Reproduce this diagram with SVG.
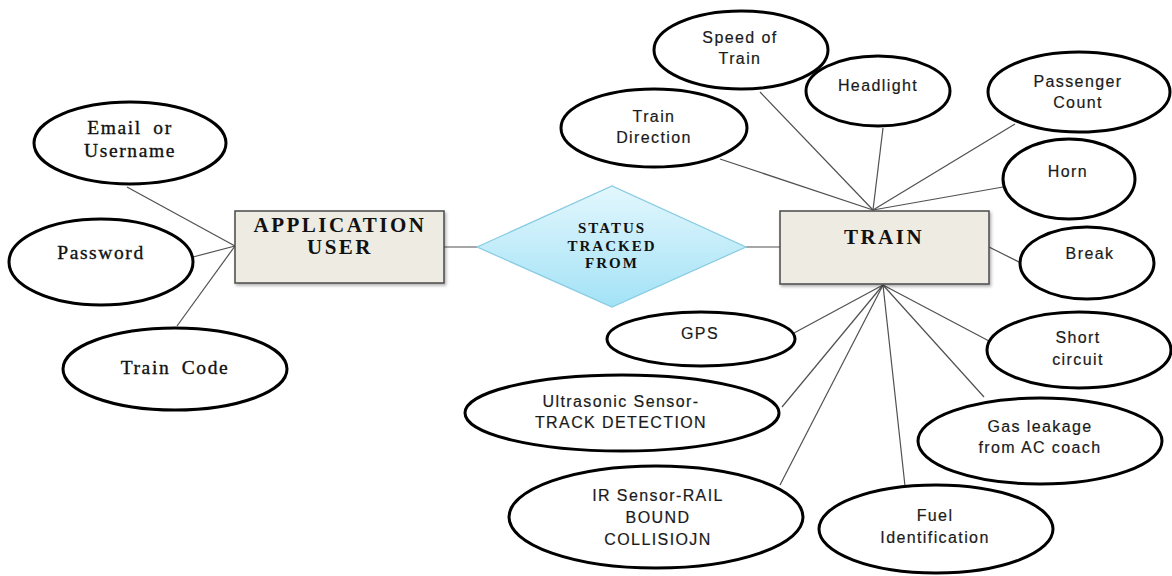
<svg xmlns="http://www.w3.org/2000/svg" width="1172" height="576" viewBox="0 0 1172 576">
<defs>
<linearGradient id="dg" x1="0" y1="0" x2="0" y2="1">
<stop offset="0" stop-color="#e3f7fd"/>
<stop offset="1" stop-color="#a3e2f6"/>
</linearGradient>
<filter id="sh" x="-10%" y="-10%" width="130%" height="140%">
<feDropShadow dx="1.5" dy="2" stdDeviation="1.5" flood-color="#000" flood-opacity="0.3"/>
</filter>
</defs>
<style>
.att{fill:#fff;stroke:#000;stroke-width:3}
.ent{fill:#edebe2;stroke:#4a4a4a;stroke-width:1.5;filter:url(#sh)}
.ln{stroke:#505050;stroke-width:1.2;fill:none}
.ts{font-family:"Liberation Serif","Times New Roman",serif;font-size:19.5px;letter-spacing:1.6px;word-spacing:5px;fill:#111;stroke:#111;stroke-width:0.35;text-anchor:middle}
.tb{font-family:"Liberation Serif","Times New Roman",serif;font-weight:bold;font-size:21px;letter-spacing:2.5px;fill:#111;text-anchor:middle}
.tr{font-family:"Liberation Serif","Times New Roman",serif;font-weight:bold;font-size:15px;letter-spacing:2px;fill:#111;text-anchor:middle}
.tc{font-family:"Liberation Sans",Arial,sans-serif;font-size:16px;letter-spacing:1.4px;fill:#1a1a1a;stroke:#1a1a1a;stroke-width:0.2;text-anchor:middle}
</style>
<rect width="1172" height="576" fill="#fff"/>
<g id="connectors">
<line class="ln" x1="127" y1="187" x2="235" y2="246"/>
<line class="ln" x1="193" y1="257" x2="235" y2="246"/>
<line class="ln" x1="177" y1="326" x2="235" y2="246"/>
<line class="ln" x1="444" y1="247" x2="477" y2="247"/>
<line class="ln" x1="746" y1="247" x2="780" y2="247"/>
<line class="ln" x1="720" y1="159" x2="873" y2="210"/>
<line class="ln" x1="760" y1="92" x2="873" y2="210"/>
<line class="ln" x1="883" y1="128" x2="873" y2="210"/>
<line class="ln" x1="1015" y1="124" x2="873" y2="210"/>
<line class="ln" x1="1003" y1="187" x2="873" y2="210"/>
<line class="ln" x1="989" y1="247" x2="1021" y2="263"/>
<line class="ln" x1="794" y1="333" x2="883" y2="285"/>
<line class="ln" x1="782" y1="407" x2="883" y2="285"/>
<line class="ln" x1="780" y1="485" x2="883" y2="285"/>
<line class="ln" x1="905" y1="486" x2="883" y2="285"/>
<line class="ln" x1="984" y1="397" x2="883" y2="285"/>
<line class="ln" x1="989" y1="341" x2="883" y2="285"/>
</g>
<g id="email"><ellipse class="att" cx="130" cy="143" rx="96" ry="41"/><text class="ts" x="130" y="134">Email or</text><text class="ts" x="130" y="157">Username</text></g>
<g id="password"><ellipse class="att" cx="101" cy="262" rx="92" ry="43"/><text class="ts" x="101" y="259">Password</text></g>
<g id="traincode"><ellipse class="att" cx="175" cy="369" rx="112" ry="41"/><text class="ts" x="175" y="374">Train Code</text></g>
<g id="appuser"><rect class="ent" x="235" y="211" width="209" height="72"/><text class="tb" x="340" y="232">APPLICATION</text><text class="tb" x="340" y="254">USER</text></g>
<g id="status"><polygon points="477,247 612,186 746,247 612,307" fill="url(#dg)" stroke="#86cbe2" stroke-width="1.2"/><text class="tr" x="612" y="233">STATUS</text><text class="tr" x="612" y="251">TRACKED</text><text class="tr" x="612" y="268">FROM</text></g>
<g id="train"><rect class="ent" x="780" y="211" width="209" height="73"/><text class="tb" x="884" y="244">TRAIN</text></g>
<g id="speed"><ellipse class="att" cx="741" cy="50" rx="87" ry="39"/><text class="tc" x="740" y="43">Speed of</text><text class="tc" x="740" y="64">Train</text></g>
<g id="headlight"><ellipse class="att" cx="878" cy="91" rx="72" ry="35"/><text class="tc" x="878" y="91">Headlight</text></g>
<g id="passenger"><ellipse class="att" cx="1079" cy="92" rx="91" ry="40"/><text class="tc" x="1078" y="87">Passenger</text><text class="tc" x="1078" y="108">Count</text></g>
<g id="direction"><ellipse class="att" cx="654" cy="128" rx="93" ry="39"/><text class="tc" x="654" y="122">Train</text><text class="tc" x="654" y="143">Direction</text></g>
<g id="horn"><ellipse class="att" cx="1069" cy="179" rx="66" ry="40"/><text class="tc" x="1068" y="177">Horn</text></g>
<g id="break"><ellipse class="att" cx="1087" cy="263" rx="67" ry="36"/><text class="tc" x="1090" y="259">Break</text></g>
<g id="gps"><ellipse class="att" cx="701" cy="339" rx="94" ry="27"/><text class="tc" x="700" y="339">GPS</text></g>
<g id="short"><ellipse class="att" cx="1079" cy="350" rx="92" ry="38"/><text class="tc" x="1078" y="343">Short</text><text class="tc" x="1078" y="365">circuit</text></g>
<g id="ultrasonic"><ellipse class="att" cx="622" cy="413" rx="157" ry="38"/><text class="tc" x="621" y="407">Ultrasonic Sensor-</text><text class="tc" x="621" y="428">TRACK DETECTION</text></g>
<g id="gas"><ellipse class="att" cx="1040" cy="441" rx="122" ry="43"/><text class="tc" x="1040" y="432">Gas leakage</text><text class="tc" x="1040" y="453">from AC coach</text></g>
<g id="ir"><ellipse class="att" cx="656" cy="517" rx="147" ry="51"/><text class="tc" x="658" y="501">IR Sensor-RAIL</text><text class="tc" x="658" y="523">BOUND</text><text class="tc" x="658" y="545">COLLISIOJN</text></g>
<g id="fuel"><ellipse class="att" cx="936" cy="529" rx="117" ry="44"/><text class="tc" x="935" y="521">Fuel</text><text class="tc" x="935" y="543">Identification</text></g>
</svg>
